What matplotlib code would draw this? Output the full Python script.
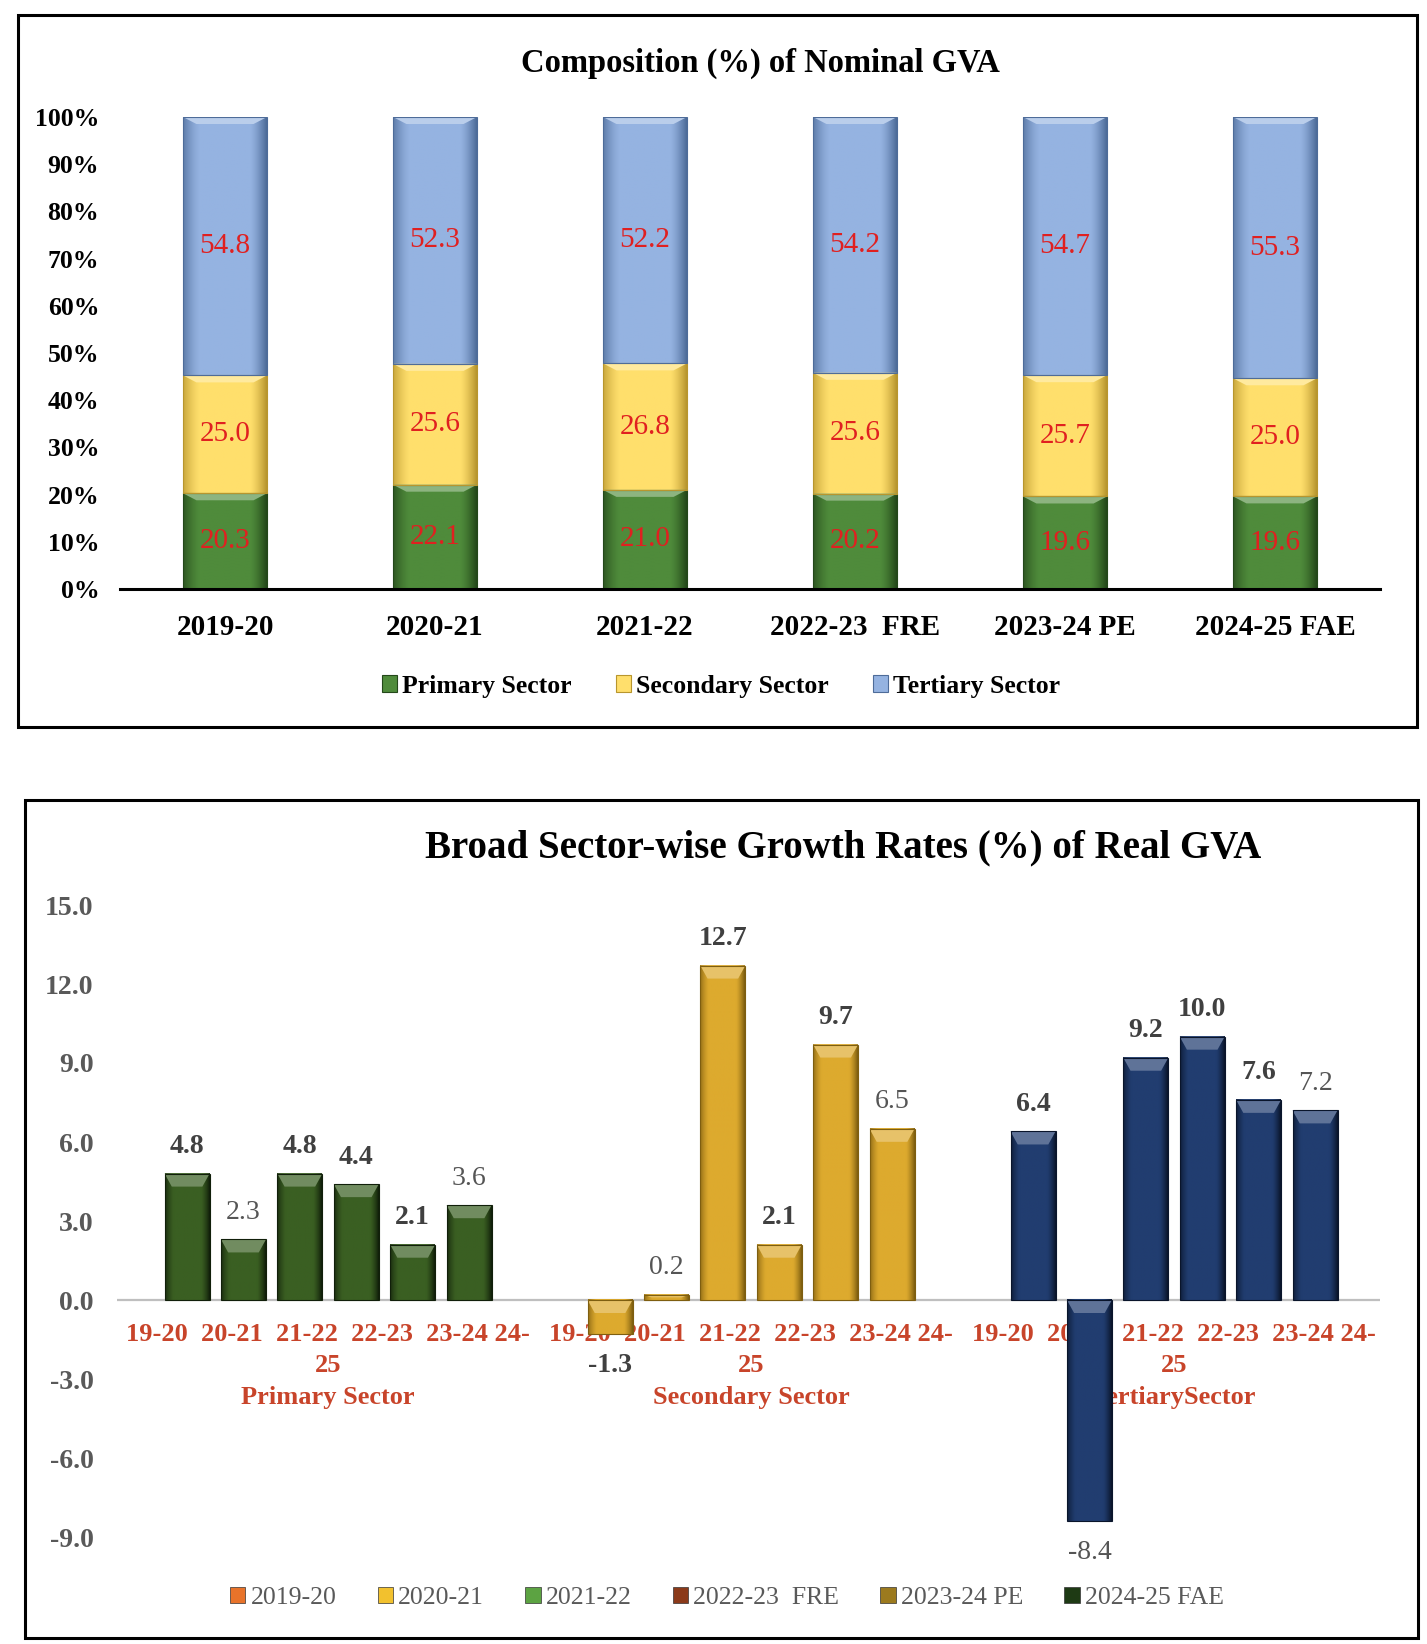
import numpy as np
import matplotlib
matplotlib.use("Agg")
import matplotlib.pyplot as plt
from matplotlib.patches import Rectangle, Polygon, Patch
from matplotlib.colors import to_rgb

plt.rcParams['font.family'] = ['Liberation Serif', 'DejaVu Serif']

#%% DATA
years = ['2019-20', '2020-21', '2021-22', '2022-23  FRE', '2023-24 PE', '2024-25 FAE']
primary_share = [20.3, 22.1, 21.0, 20.2, 19.6, 19.6]
secondary_share = [25.0, 25.6, 26.8, 25.6, 25.7, 25.0]
tertiary_share = [54.8, 52.3, 52.2, 54.2, 54.7, 55.3]
share_names = ['Primary Sector', 'Secondary Sector', 'Tertiary Sector']

sectors = ['Primary Sector', 'Secondary Sector', 'TertiarySector']
short_years = ['19-20', '20-21', '21-22', '22-23', '23-24', '24-25']
primary_growth = [4.8, 2.3, 4.8, 4.4, 2.1, 3.6]
secondary_growth = [-1.3, 0.2, 12.7, 2.1, 9.7, 6.5]
tertiary_growth = [6.4, -8.4, 9.2, 10.0, 7.6, 7.2]

#%% STYLE
W, H = 1427, 1644
share_colors = {'Primary Sector': ('#4F8B3B', '#24481A'),
                'Secondary Sector': ('#FFDF6C', '#B8962E'),
                'Tertiary Sector': ('#95B3E1', '#4E6C99')}
growth_colors = [('#3A5F22', '#111F0A'), ('#DDAA2E', '#7E5E10'), ('#213D70', '#0A152B')]
legend_colors = ['#E8732A', '#F2C12E', '#5CA342', '#8B3A1A', '#9C7A1E', '#1E3A14']
red = '#E02020'
cat_red = '#C8442A'


def px_per_unit(ax):
    return ax.transData.transform((0, 1))[1] - ax.transData.transform((0, 0))[1]


def bevel_bar(ax, x, y0, y1, width, base, edge, top_px=9, light_mix=0.35, zorder=3):
    lo, hi = min(y0, y1), max(y0, y1)
    x0, x1 = x - width / 2, x + width / 2
    base = np.array(to_rgb(base))
    edge = np.array(to_rgb(edge))
    t = np.linspace(-1, 1, 80)
    w = np.clip((np.abs(t) - 0.6) / 0.4, 0, 1) ** 1.4
    w = np.where(t > 0, w, w * 0.75)
    cols = base[None, :] * (1 - w[:, None]) + edge[None, :] * w[:, None]
    ax.imshow(cols[None, :, :], extent=(x0, x1, lo, hi), aspect='auto',
              interpolation='bilinear', origin='lower', zorder=zorder)
    h = min(top_px / px_per_unit(ax), (hi - lo) * 0.5)
    inset = width * 0.16
    light = base + (1 - base) * light_mix
    ax.add_patch(Polygon([(x0, hi), (x1, hi), (x1 - inset, hi - h), (x0 + inset, hi - h)],
                         closed=True, fc=light, ec='none', zorder=zorder + 0.1))
    ax.add_patch(Rectangle((x0, lo), width, hi - lo, fill=False, ec=edge, lw=0.8,
                           zorder=zorder + 0.2))


def frame(fig, x0, y0, x1, y1):
    fig.add_artist(Rectangle((x0 / W, 1 - y1 / H), (x1 - x0) / W, (y1 - y0) / H,
                             transform=fig.transFigure, fill=False, ec='black', lw=2.2))


fig = plt.figure(figsize=(W / 100, H / 100), dpi=100)
frame(fig, 18, 15, 1417, 727)
frame(fig, 25, 800, 1418, 1638)

#%% TOP: COMPOSITION
ax1 = fig.add_axes([120 / W, 1 - 589 / H, 1260 / W, 472 / H])
ax1.set_xlim(-0.5, len(years) - 0.5)
ax1.set_ylim(0, 100)

shares = np.array([primary_share, secondary_share, tertiary_share])
norm = shares / shares.sum(axis=0) * 100
bottoms = np.vstack([np.zeros(len(years)), np.cumsum(norm, axis=0)[:-1]])
bw = 84 / 210
for k, name in enumerate(share_names):
    base, edge = share_colors[name]
    for i in range(len(years)):
        b, v = bottoms[k, i], norm[k, i]
        bevel_bar(ax1, i, b, b + v, bw, base, edge, top_px=7)
        ax1.text(i, b + v / 2, f'{shares[k, i]:.1f}', ha='center', va='center',
                 color=red, fontsize=21, zorder=6)

for s in ['top', 'right', 'left']:
    ax1.spines[s].set_visible(False)
ax1.spines['bottom'].set_linewidth(2.2)
ax1.spines['bottom'].set_color('black')
ax1.spines['bottom'].set_zorder(7)
ax1.set_yticks(np.arange(0, 101, 10))
ax1.set_yticklabels([f'{v}%' for v in range(0, 101, 10)])
ax1.set_xticks(range(len(years)))
ax1.set_xticklabels(years)
ax1.tick_params(axis='y', length=0, pad=15, labelsize=18.5)
ax1.tick_params(axis='x', length=0, pad=18, labelsize=21)
for lab in ax1.get_xticklabels() + ax1.get_yticklabels():
    lab.set_fontweight('bold')

fig.text(760 / W, 1 - 63 / H, 'Composition (%) of Nominal GVA', ha='center', va='center',
         fontsize=23.5, fontweight='bold')
handles = [Patch(fc=share_colors[n][0], ec=share_colors[n][1], lw=0.8) for n in share_names]
fig.legend(handles, share_names, loc='center', bbox_to_anchor=(721 / W, 1 - 686 / H),
           ncol=3, frameon=False, handlelength=0.6, handleheight=0.6, handletextpad=0.2,
           columnspacing=1.7, prop={'size': 18.5, 'weight': 'bold'})

#%% BOTTOM: GROWTH
ax2 = fig.add_axes([117 / W, 1 - 1537 / H, 1263 / W, 632 / H])
ax2.set_xlim(-0.499, 2.487)
ax2.set_ylim(-9, 15)
for s in ax2.spines.values():
    s.set_visible(False)
ax2.axhline(0, color='#BFBFBF', lw=1.6, zorder=1)

growth = [primary_growth, secondary_growth, tertiary_growth]
step, gbw = 56.4 / 423, 45 / 423
for g, vals in enumerate(growth):
    base, edge = growth_colors[g]
    for i, v in enumerate(vals):
        x = g + (i - (len(vals) - 1) / 2) * step
        bevel_bar(ax2, x, 0, v, gbw, base, edge, top_px=13, light_mix=0.28)
        off = 27 if v >= 0 else -31
        plain = i in (1, len(vals) - 1)
        ax2.annotate(f'{v:.1f}', (x, v), xytext=(0, off * 0.72), textcoords='offset points',
                     ha='center', va='center', fontsize=20,
                     color='#555555' if plain else '#404040',
                     fontweight='normal' if plain else 'bold', zorder=6)

ticks = np.arange(15, -10, -3)
ax2.set_yticks(ticks)
ax2.set_yticklabels([f'{v:.1f}' for v in ticks])
ax2.tick_params(axis='y', length=0, pad=17, labelsize=20, labelcolor='#595959')
for lab in ax2.get_yticklabels():
    lab.set_fontweight('bold')
ax2.set_xticks([])

# category labels: one wrapped, centred label per sector (three lines), under the bars
for g, sec in enumerate(sectors):
    line1 = '  '.join(short_years[:-1]) + ' ' + short_years[-1][:3]
    lines = [line1, short_years[-1][3:], sec]
    for line, dy in zip(lines, [34, 65.5, 97]):
        ax2.annotate(line, (g, 0), xytext=(0, -dy * 0.72), textcoords='offset points',
                     ha='center', va='center', fontsize=19, color=cat_red,
                     fontweight='bold', annotation_clip=False, zorder=2)

fig.text(843 / W, 1 - 848 / H, 'Broad Sector-wise Growth Rates (%) of Real GVA',
         ha='center', va='center', fontsize=28, fontweight='bold')
legend_labels = ['2019-20', '2020-21', '2021-22', '2022-23  FRE', '2023-24 PE', '2024-25 FAE']
handles2 = [Patch(fc=c, ec='#333333', lw=0.5) for c in legend_colors]
fig.legend(handles2, legend_labels, loc='center', bbox_to_anchor=(727 / W, 1 - 1598 / H),
           ncol=6, frameon=False, handlelength=0.6, handleheight=0.6, handletextpad=0.2,
           columnspacing=1.6, prop={'size': 18.5}, labelcolor='#595959')

fig.savefig('out.png', dpi=100)
